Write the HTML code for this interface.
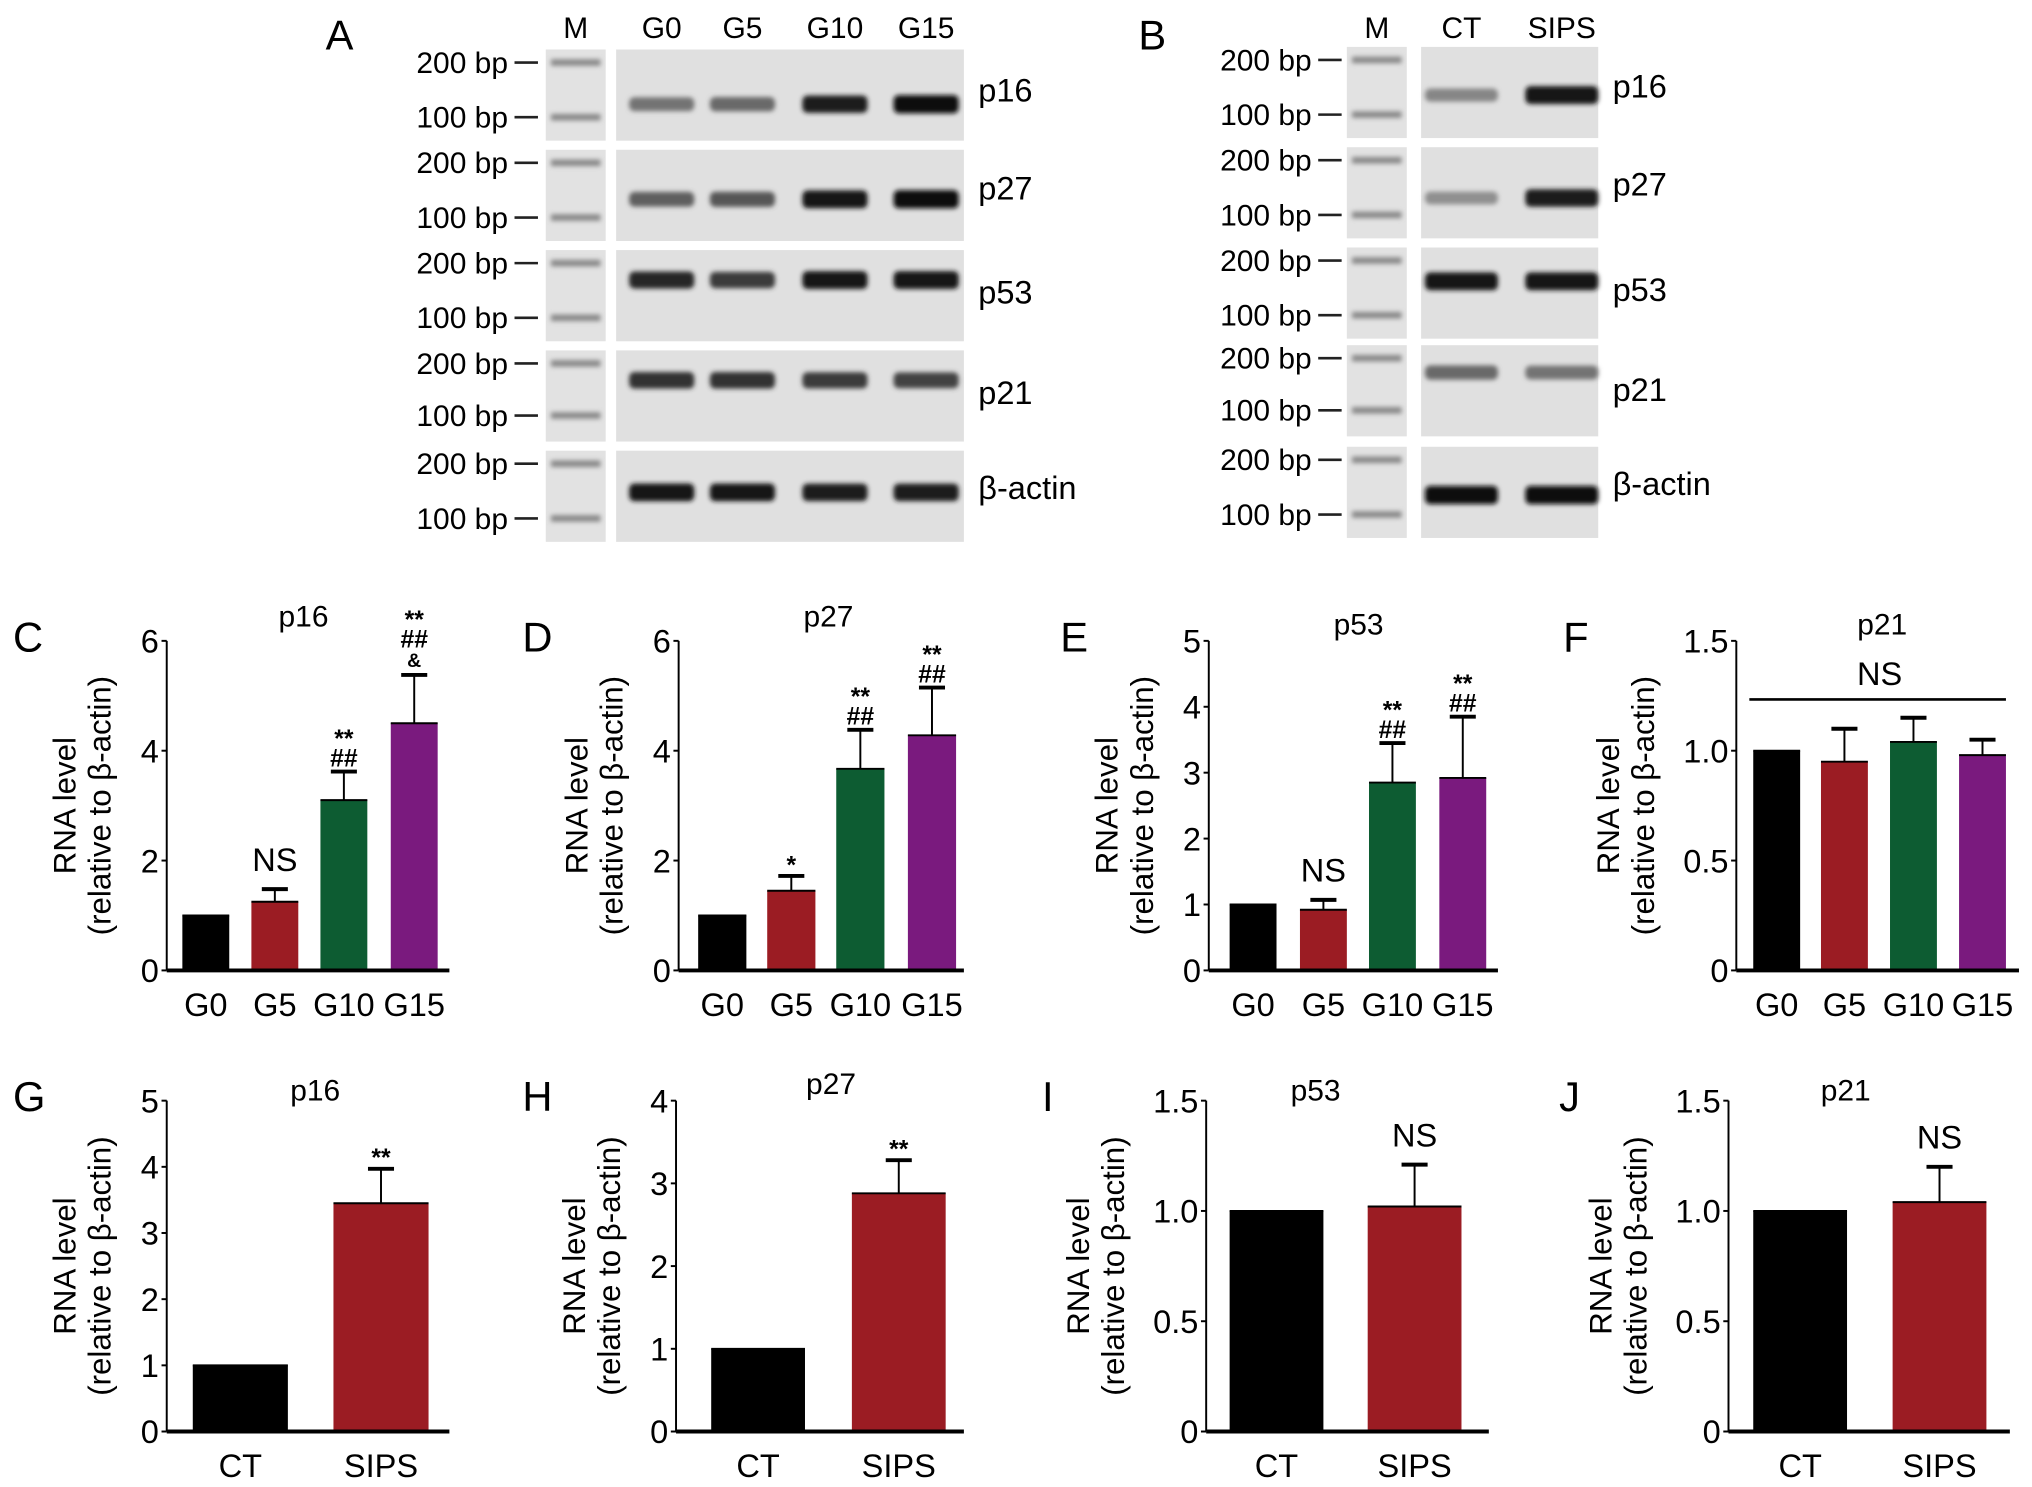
<!DOCTYPE html>
<html><head><meta charset="utf-8">
<style>
html,body{margin:0;padding:0;background:#fff;}
svg{display:block;font-family:"Liberation Sans",Arial,sans-serif;}
</style></head>
<body>
<svg id="fig" width="2032" height="1487" viewBox="0 0 1560 1141.6" xmlns="http://www.w3.org/2000/svg">
<defs>
<filter id="blur" x="-20%" y="-100%" width="140%" height="300%"><feGaussianBlur stdDeviation="1.8"/></filter>
</defs>
</svg>
<script>
const NS="http://www.w3.org/2000/svg";
const svg=document.getElementById('fig');
function mk(tag,attrs,parent,text){const e=document.createElementNS(NS,tag);for(const k in attrs)e.setAttribute(k,attrs[k]);if(text!==undefined)e.textContent=text;(parent||svg).appendChild(e);return e;}

/* ---------- Gel data ---------- */
const gelALanes=["G0","G5","G10","G15"];
const gelAGenes=["p16","p27","p53","p21","β-actin"];
const gelAIntensity=[[0.45,0.5,0.9,1.0],[0.55,0.6,0.95,1.0],[0.85,0.75,0.95,0.95],[0.8,0.8,0.75,0.7],[0.95,0.95,0.9,0.9]];
const gelBLanes=["CT","SIPS"];
const gelBIntensity=[[0.35,0.95],[0.3,0.9],[0.95,0.95],[0.5,0.45],[1.0,1.0]];

function gel(opts){
  const g=mk('g',{});
  
  
  const letter=mk('text',{x:opts.letterX,y:38,'font-size':32},g,opts.letter);
  
  
  mk('text',{x:(opts.mX0+opts.mX1)/2,y:29,'font-size':23,'text-anchor':'middle'},g,'M');
  opts.lanes.forEach((l,i)=>{
    const t=mk('text',{x:opts.laneX[i],y:29,'font-size':23,'text-anchor':'middle'},g,l);
    
    
  });
  opts.genes.forEach((gene,r)=>{
    const y0=opts.rowY[r];
    mk('rect',{x:opts.mX0,y:y0,width:opts.mX1-opts.mX0,height:70,fill:'#e2e2e2'},g);
    mk('rect',{x:opts.sX0,y:y0,width:opts.sX1-opts.sX0,height:70,fill:'#e0e0e0'},g);
    const y200=y0+10, y100=y0+(r===3?50:52);
    [[y200,'200 bp'],[y100,'100 bp']].forEach(([yy,lab])=>{
      mk('text',{x:opts.tickX0-5,y:yy+8,'font-size':23,'text-anchor':'end'},g,lab);
      mk('line',{x1:opts.tickX0,x2:opts.tickX0+18,y1:yy,y2:yy,stroke:'#222','stroke-width':2},g);
      mk('rect',{x:opts.mX0+4,y:yy-2.5,width:opts.mX1-opts.mX0-8,height:5,fill:'#888',filter:'url(#blur)'},g);
    });
    const by=opts.bandY[r];
    opts.laneX.forEach((x,i)=>{
      const v=opts.intens[r][i];
      const c=Math.round(200-190*v);
      const b=mk('rect',{x:x-opts.bw/2,y:by-4-3*v,width:opts.bw,height:8+6*v,rx:4,fill:`rgb(${c},${c},${c})`,filter:'url(#blur)'},g);
      
      
    });
    const gl=mk('text',{x:opts.sX1+11,y:opts.geneY[r],'font-size':25},g,gene);
    
    
  });
}
gel({name:'gel-a',letter:'A',letterX:250,mX0:419,mX1:465,sX0:473,sX1:740,tickX0:395,bw:50,
  lanes:gelALanes,laneX:[508,570,641,711],genes:gelAGenes,intens:gelAIntensity,
  rowY:[38,115,192,269,346],bandY:[80,153,215,292,378],geneY:[78,153,233,310,383]});
gel({name:'gel-b',letter:'B',letterX:874,mX0:1034,mX1:1080,sX0:1091,sX1:1227,tickX0:1012,bw:56,
  lanes:gelBLanes,laneX:[1122,1199],genes:gelAGenes,intens:gelBIntensity,
  rowY:[36,113,190,265,343],bandY:[73,152,216,286,380],geneY:[75,150,231,308,380]});

/* ---------- Bar chart data ---------- */
const catsG=["G0","G5","G10","G15"];
const catsS=["CT","SIPS"];
const colG=["#000000","#9b1c23","#0d5c32","#7a1a7e"];
const colS=["#000000","#9b1c23"];
const valC=[1,1.25,3.1,4.5];     const errC=[1,1.48,3.62,5.38];
const annC=[[],["NS"],["**","##"],["**","##","&"]];
const valD=[1,1.45,3.67,4.28];   const errD=[1,1.72,4.38,5.15];
const annD=[[],["*"],["**","##"],["**","##"]];
const valE=[1,0.92,2.85,2.92];   const errE=[1,1.07,3.45,3.85];
const annE=[[],["NS"],["**","##"],["**","##"]];
const valF=[1.0,0.95,1.04,0.98]; const errF=[1.0,1.1,1.15,1.05];
const valG=[1,3.45];  const errG=[1,3.97]; const annG=[[],["**"]];
const valH=[1,2.88];  const errH=[1,3.28]; const annH=[[],["**"]];
const valI=[1,1.02];  const errI=[1,1.21]; const annI=[[],["NS"]];
const valJ=[1,1.04];  const errJ=[1,1.2];  const annJ=[[],["NS"]];
const ticksC=["0","2","4","6"], ticksD=["0","2","4","6"], ticksE=["0","1","2","3","4","5"];
const ticks15=["0","0.5","1.0","1.5"], ticksG=["0","1","2","3","4","5"], ticksH=["0","1","2","3","4"];

function bar(o){
  const g=mk('g',{});
  
  
  const ymax=parseFloat(o.ticks[o.ticks.length-1]);
  const ys=v=>o.y0-(v/ymax)*(o.y0-o.yTop);
  const L=mk('text',{x:o.lx,y:o.yTop+8,'font-size':32},g,o.letter);
  
  
  const T=mk('text',{x:o.titleX,y:o.titleY,'font-size':23,'text-anchor':'middle'},g,o.title);
  
  
  const wide=o.ticks[o.ticks.length-1].length>1;
  const yl=mk('text',{transform:`translate(${o.ax-(wide?90:70)},${(o.y0+o.yTop)/2}) rotate(-90)`,'font-size':24,'text-anchor':'middle'},g);
  
  
  mk('tspan',{x:0,dy:0},yl,'RNA level');
  mk('tspan',{x:0,dy:27},yl,'(relative to β-actin)');
  const yaxis=mk('line',{x1:o.ax,x2:o.ax,y1:o.yTop,y2:o.y0,stroke:'#000','stroke-width':1.5},g);
  
  
  o.ticks.forEach(t=>{
    const y=ys(parseFloat(t));
    mk('line',{x1:o.ax-4,x2:o.ax,y1:y,y2:y,stroke:'#000','stroke-width':1.5},g);
    const tl=mk('text',{x:o.ax-6,y:y+9,'font-size':25,'text-anchor':'end'},g,t);
    
    
  });
  o.cats.forEach((c,i)=>{
    const x=o.bx[i], w=o.bw;
    const yv=ys(o.vals[i]);
    const r=mk('rect',{x:x,y:yv,width:w,height:o.y0-yv,fill:o.cols[i]},g);
    
    
    let topY=yv;
    if(o.errs[i]>o.vals[i]){
      const ye=ys(o.errs[i]);
      mk('line',{x1:x+w/2,x2:x+w/2,y1:yv,y2:ye,stroke:'#000','stroke-width':1.5},g);
      const cap=mk('line',{x1:x+w/2-10,x2:x+w/2+10,y1:ye,y2:ye,stroke:'#000','stroke-width':3},g);
      
      
      topY=ye;
    }
    mk('line',{x1:x,x2:x+w,y1:yv,y2:yv,stroke:'#000','stroke-width':1.5},g);
    const an=(o.ann&&o.ann[i])||[];
    an.forEach((a,k)=>{
      const n=an.length-k;
      const big=a==="NS";
      const off=big?-6:(a==='&'?-4:(a==='*'||a==='**'?0:-2));
      const t=mk('text',{x:x+w/2,y:topY-8-(n-1)*17+off+(big?0:6),'font-size':big?25:(a==='&'?15:19),'text-anchor':'middle','font-weight':big?'normal':'bold'},g,a);
      
      
    });
    const xl=mk('text',{x:x+w/2,y:o.y0+35,'font-size':25,'text-anchor':'middle'},g,c);
    
    
  });
  const xa=mk('line',{x1:o.ax,x2:o.axEnd,y1:o.y0,y2:o.y0,stroke:'#000','stroke-width':3},g);
  
  
  return {g,ys};
}
const r1={y0:745,yTop:492};
bar({...r1,letter:'C',lx:10,title:'p16',titleX:233,titleY:481,ax:128,axEnd:345,ticks:ticksC,cats:catsG,cols:colG,vals:valC,errs:errC,ann:annC,bx:[140,193,246,300],bw:36});
bar({...r1,letter:'D',lx:401,title:'p27',titleX:636,titleY:481,ax:521,axEnd:740,ticks:ticksD,cats:catsG,cols:colG,vals:valD,errs:errD,ann:annD,bx:[536,589,642,697],bw:37});
bar({...r1,letter:'E',lx:814,title:'p53',titleX:1043,titleY:487,ax:928,axEnd:1150,ticks:ticksE,cats:catsG,cols:colG,vals:valE,errs:errE,ann:annE,bx:[944,998,1051,1105],bw:36});
const fp=bar({...r1,letter:'F',lx:1200,title:'p21',titleX:1445,titleY:487,ax:1333,axEnd:1550,ticks:ticks15,cats:catsG,cols:colG,vals:valF,errs:errF,ann:[],bx:[1346,1398,1451,1504],bw:36});
const nsl=mk('line',{x1:1343,x2:1540,y1:537,y2:537,stroke:'#000','stroke-width':2},fp.g);


const nst=mk('text',{x:1443,y:526,'font-size':25,'text-anchor':'middle'},fp.g,'NS');


const r2={y0:1099,yTop:845};
bar({...r2,letter:'G',lx:10,title:'p16',titleX:242,titleY:845,ax:128,axEnd:345,ticks:ticksG,cats:catsS,cols:colS,vals:valG,errs:errG,ann:annG,bx:[148,256],bw:73});
bar({...r2,letter:'H',lx:401,title:'p27',titleX:638,titleY:840,ax:519,axEnd:740,ticks:ticksH,cats:catsS,cols:colS,vals:valH,errs:errH,ann:annH,bx:[546,654],bw:72});
bar({...r2,letter:'I',lx:800,title:'p53',titleX:1010,titleY:845,ax:926,axEnd:1143,ticks:ticks15,cats:catsS,cols:colS,vals:valI,errs:errI,ann:annI,bx:[944,1050],bw:72});
bar({...r2,letter:'J',lx:1197,title:'p21',titleX:1417,titleY:845,ax:1327,axEnd:1543,ticks:ticks15,cats:catsS,cols:colS,vals:valJ,errs:errJ,ann:annJ,bx:[1346,1453],bw:72});
</script>
</body></html>
